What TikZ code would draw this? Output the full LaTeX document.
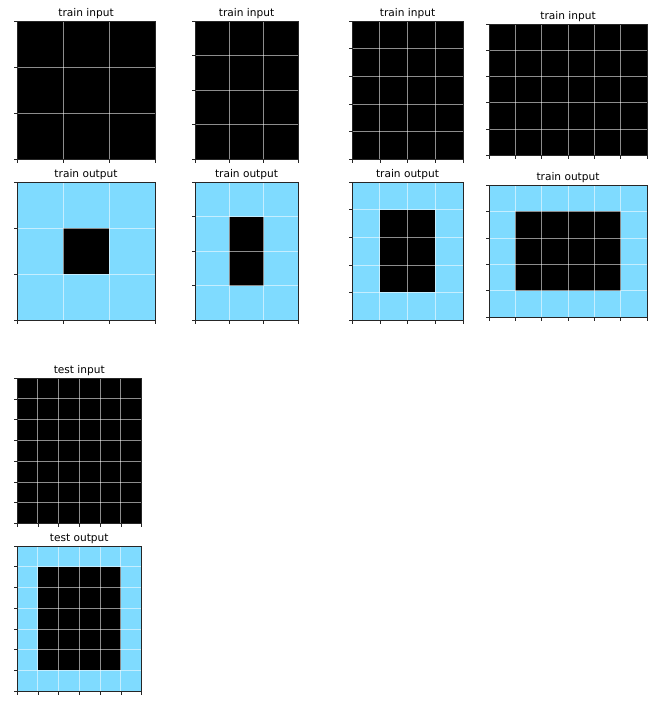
\documentclass[tikz,border=0pt]{standalone}
\usepackage{fontspec}
\setmainfont{DejaVu Sans}
\definecolor{arcblue}{HTML}{7FDBFF}
\tikzset{
  gridline/.style={draw=white, line width=0.6pt, draw opacity=0.55},
  spine/.style={draw=black!85, line width=0.6pt},
  tick/.style={draw=black!85, line width=0.5pt},
  ptitle/.style={font=\fontsize{10.6}{12}\selectfont, inner sep=0pt, anchor=center},
}
\newcommand\psetup[6]{%
  \def\pxa{#1}\def\pya{#2}\def\pxb{#3}\def\pyb{#4}\def\pnc{#5}\def\pnr{#6}%
  \pgfmathsetmacro\pcw{(#3-#1)/#5}%
  \pgfmathsetmacro\pch{(#4-#2)/#6}%
}
\newcommand\pfill[1]{\fill[#1] (\pxa,\pya) rectangle (\pxb,\pyb);}
\newcommand\pblack[4]{\fill[black] (\pxa+#1*\pcw,\pya+#2*\pch) rectangle (\pxa+#3*\pcw,\pya+#4*\pch);}
\newcommand\pgrid{%
  \pgfmathtruncatemacro\pncm{\pnc-1}%
  \pgfmathtruncatemacro\pnrm{\pnr-1}%
  \foreach \i in {1,...,\pncm} {\draw[gridline] (\pxa+\i*\pcw,\pya) -- (\pxa+\i*\pcw,\pyb);}
  \foreach \j in {1,...,\pnrm} {\draw[gridline] (\pxa,\pya+\j*\pch) -- (\pxb,\pya+\j*\pch);}
  \draw[spine] (\pxa,\pya) rectangle (\pxb,\pyb);
  \foreach \i in {0,...,\pnc} {\draw[tick] (\pxa+\i*\pcw,\pyb) -- ++(0,3.5);}
  \foreach \j in {0,...,\pnr} {\draw[tick] (\pxa,\pya+\j*\pch) -- ++(-3.5,0);}
}
\newcommand\ptitle[3]{\node[ptitle] (#1) at ({(\pxa+\pxb)/2},#2) {#3};}
\begin{document}
\begin{tikzpicture}[x=1pt,y=-1pt]
\useasboundingbox[fill=white] (0,0) rectangle (661,704);
% train inputs
\psetup{17}{21}{155}{159}{3}{3}\pfill{black}\pgrid\ptitle{t1}{13.5}{train input}
\psetup{195}{21}{298}{159}{3}{4}\pfill{black}\pgrid\ptitle{t2}{13.5}{train input}
\psetup{352}{21}{463}{159}{4}{5}\pfill{black}\pgrid\ptitle{t3}{13.5}{train input}
\psetup{489}{24}{647}{155}{6}{5}\pfill{black}\pgrid\ptitle{t4}{17}{train input}
% train outputs
\psetup{17}{182}{155}{320}{3}{3}\pfill{arcblue}\pblack{1}{1}{2}{2}\pgrid\ptitle{o1}{175}{train output}
\psetup{195}{182}{298}{320}{3}{4}\pfill{arcblue}\pblack{1}{1}{2}{3}\pgrid\ptitle{o2}{175}{train output}
\psetup{352}{182}{463}{320}{4}{5}\pfill{arcblue}\pblack{1}{1}{3}{4}\pgrid\ptitle{o3}{175}{train output}
\psetup{489}{185}{647}{317}{6}{5}\pfill{arcblue}\pblack{1}{1}{5}{4}\pgrid\ptitle{o4}{178}{train output}
% test
\psetup{17}{378}{141.5}{523.5}{6}{7}\pfill{black}\pgrid\ptitle{ti}{370.5}{test input}
\psetup{17}{546}{141.5}{691}{6}{7}\pfill{arcblue}\pblack{1}{1}{5}{6}\pgrid\ptitle{to}{539}{test output}
\end{tikzpicture}
\end{document}
